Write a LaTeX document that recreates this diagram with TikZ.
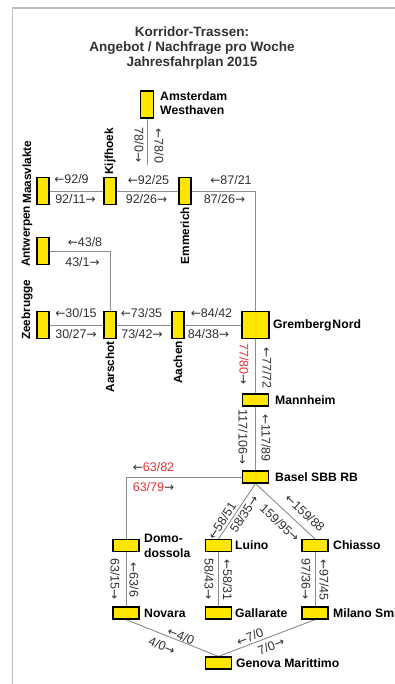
\documentclass[tikz,border=0pt]{standalone}
\usepackage{fontspec}
\setmainfont{Liberation Sans}
\newfontfamily\arrowfont{DejaVu Sans}
\usetikzlibrary{backgrounds}
\definecolor{stnyellow}{RGB}{255,230,0}
\definecolor{numgray}{RGB}{50,50,50}
\definecolor{numred}{RGB}{228,50,60}
\definecolor{linegray}{RGB}{140,140,140}
\definecolor{framegray}{RGB}{190,190,190}
\newcommand\rd[1]{\textcolor{numred}{#1}}
\newcommand\la{{\arrowfont\fontsize{12}{14}\selectfont ←}}
\newcommand\ra{{\arrowfont\fontsize{12}{14}\selectfont →}}
\begin{document}
\begin{tikzpicture}[x=1pt,y=-1pt,
  stn/.style={draw=black,line width=1.2pt,fill=stnyellow,inner sep=0pt},
  vbox/.style={stn,minimum width=12pt,minimum height=27pt},
  hbox/.style={stn,minimum width=26pt,minimum height=12pt},
  sqbox/.style={stn,minimum width=27pt,minimum height=27pt},
  conn/.style={draw=linegray,line width=0.9pt},
  lbl/.style={font=\bfseries\fontsize{12.2}{14.5}\selectfont,inner sep=0pt,text=black},
  vlbl/.style={lbl,rotate=90,font=\bfseries\fontsize{11.8}{13}\selectfont},
  num/.style={font=\fontsize{12.5}{14}\selectfont,inner sep=0pt,text=numgray},
  title/.style={font=\bfseries\fontsize{13.5}{15}\selectfont,inner sep=0pt,align=center,text=numgray},
  frame/.style={draw=framegray,line width=1.5pt}
  ]
\useasboundingbox (0,0) rectangle (395,684);

\node[title] (ttl) at (192,48) {Korridor-Trassen:\\Angebot / Nachfrage pro Woche\\Jahresfahrplan 2015};

% stations
\node[vbox,minimum width=13pt] (ams) at (147,104.5) {};
\node[vbox] (maas) at (43,191) {};
\node[vbox] (kijf) at (110,191) {};
\node[vbox] (emm) at (185,191) {};
\node[vbox] (antw) at (43,251) {};
\node[vbox] (zee) at (43,325) {};
\node[vbox] (aar) at (110,325) {};
\node[vbox] (aach) at (178,325) {};
\node[sqbox] (grem) at (255.5,325) {};
\node[hbox] (mann) at (255.5,400) {};
\node[hbox] (basel) at (255.5,477) {};
\node[hbox] (domo) at (126,545.5) {};
\node[hbox] (luino) at (218.5,545.5) {};
\node[hbox] (chiasso) at (315,545.5) {};
\node[hbox] (novara) at (126,613) {};
\node[hbox] (gall) at (218.5,613) {};
\node[hbox] (milano) at (315,613) {};
\node[hbox] (genova) at (218.5,663) {};
\coordinate (amsend) at (147,165);

\begin{pgfonlayer}{background}
\fill[white] (0,0) rectangle (395,684);
\draw[frame] (12.5,684) -- (12.5,8) -- (395,8);
\draw[conn] (ams.south) -- (amsend);
\draw[conn] (maas.east) -- (kijf.west);
\draw[conn] (kijf.east) -- (emm.west);
\draw[conn] (emm.east) -| (grem.north);
\draw[conn] (antw.east) -| (aar.north);
\draw[conn] (zee.east) -- (aar.west);
\draw[conn] (aar.east) -- (aach.west);
\draw[conn] (aach.east) -- (grem.west);
\draw[conn] (grem.south) -- (mann.north);
\draw[conn] (mann.south) -- (basel.north);
\draw[conn] (basel.west) -| (domo.north);
\draw[conn] (basel.south) -- (luino.north);
\draw[conn] (basel.south) -- (chiasso.north);
\draw[conn] (domo.south) -- (novara.north);
\draw[conn] (luino.south) -- (gall.north);
\draw[conn] (chiasso.south) -- (milano.north);
\draw[conn] (novara.south) -- (genova.north);
\draw[conn] (milano.south) -- (genova.north);
\end{pgfonlayer}

% station labels
\node[lbl,anchor=west,align=left] (lams) at (160,103) {Amsterdam\\Westhaven};
\node[vlbl,anchor=west] (lmaas) at (27,204) {Maasvlakte};
\node[vlbl,anchor=west] (lkijf) at (110,175) {Kijfhoek};
\node[vlbl,anchor=east] (lemm) at (185,207) {Emmerich};
\node[vlbl,anchor=west] (lantw) at (27,267) {Antwerpen};
\node[vlbl,anchor=west] (lzee) at (27,340) {Zeebrugge};
\node[vlbl,anchor=east] (laar) at (110,341) {Aarschot};
\node[vlbl,anchor=east] (laach) at (178,341) {Aachen};
\node[lbl,anchor=west] (lgrem) at (273,325) {Gremberg\hspace{1pt}Nord};
\node[lbl,anchor=west] (lmann) at (275,400) {Mannheim};
\node[lbl,anchor=west] (lbasel) at (275,477) {Basel SBB RB};
\node[lbl,anchor=west,align=left,font=\bfseries\fontsize{12.2}{15}\selectfont] (ldomo) at (144,545.5) {Domo-\\dossola};
\node[lbl,anchor=west] (lluino) at (235,545.5) {Luino};
\node[lbl,anchor=west] (lchiasso) at (333,545.5) {Chiasso};
\node[lbl,anchor=west] (lnovara) at (144,613) {Novara};
\node[lbl,anchor=west] (lgall) at (235,613) {Gallarate};
\node[lbl,anchor=west] (lmilano) at (333,613) {Milano Smi};
\node[lbl,anchor=west] (lgenova) at (236,663) {Genova Marittimo};

% horizontal numbers
\node[num] (n1) at (71.5,179) {\la92/9};
\node[num] (n2) at (75.5,199) {92/11\ra};
\node[num] (n3) at (148.5,180) {\la92/25};
\node[num] (n4) at (146.5,199) {92/26\ra};
\node[num] (n5) at (231,180) {\la87/21};
\node[num] (n6) at (224.5,199) {87/26\ra};
\node[num] (n7) at (85,242) {\la43/8};
\node[num] (n8) at (82.5,262) {43/1\ra};
\node[num] (n9) at (76,313) {\la30/15};
\node[num] (n10) at (76,334) {30/27\ra};
\node[num] (n11) at (141.5,313) {\la73/35};
\node[num] (n12) at (142,334) {73/42\ra};
\node[num] (n13) at (211.5,313) {\la84/42};
\node[num] (n14) at (208.5,334) {84/38\ra};
\node[num] (n15) at (153.5,467) {\la\rd{63/82}};
\node[num] (n16) at (153.5,487) {\rd{63/79}\ra};

% vertical numbers
\node[num,rotate=-90] (v1) at (139,145) {78/0\ra};
\node[num,rotate=-90] (v2) at (159,146) {\la78/0};
\node[num,rotate=-90] (v3) at (244,364) {\rd{77/80}\ra};
\node[num,rotate=-90] (v4) at (267,368) {\la77/72};
\node[num,rotate=-90] (v5) at (243,437) {117/106\ra};
\node[num,rotate=-90] (v6) at (266,438) {\la117/89};
\node[num,rotate=-90] (v7) at (115,579) {63/15\ra};
\node[num,rotate=-90] (v8) at (134,580) {\la63/6};
\node[num,rotate=-90] (v9) at (209,579) {58/43\ra};
\node[num,rotate=-90] (v10) at (227.5,580) {\la58/31};
\node[num,rotate=-90] (v11) at (306,579) {97/36\ra};
\node[num,rotate=-90] (v12) at (324,580) {\la97/45};

% diagonal numbers
\node[num,rotate=57] (d1) at (222,521) {\la58/51};
\node[num,rotate=57] (d2) at (244,514) {58/35\ra};
\node[num,rotate=-42.5] (d3) at (305,513) {\la159/88};
\node[num,rotate=-42.5] (d4) at (280,523) {159/95\ra};
\node[num,rotate=-22.5] (d5) at (181,636) {\la4/0};
\node[num,rotate=-22.5] (d6) at (162,646) {4/0\ra};
\node[num,rotate=21.5] (d7) at (250,637) {\la7/0};
\node[num,rotate=21.5] (d8) at (271,646) {7/0\ra};
\end{tikzpicture}
\end{document}
